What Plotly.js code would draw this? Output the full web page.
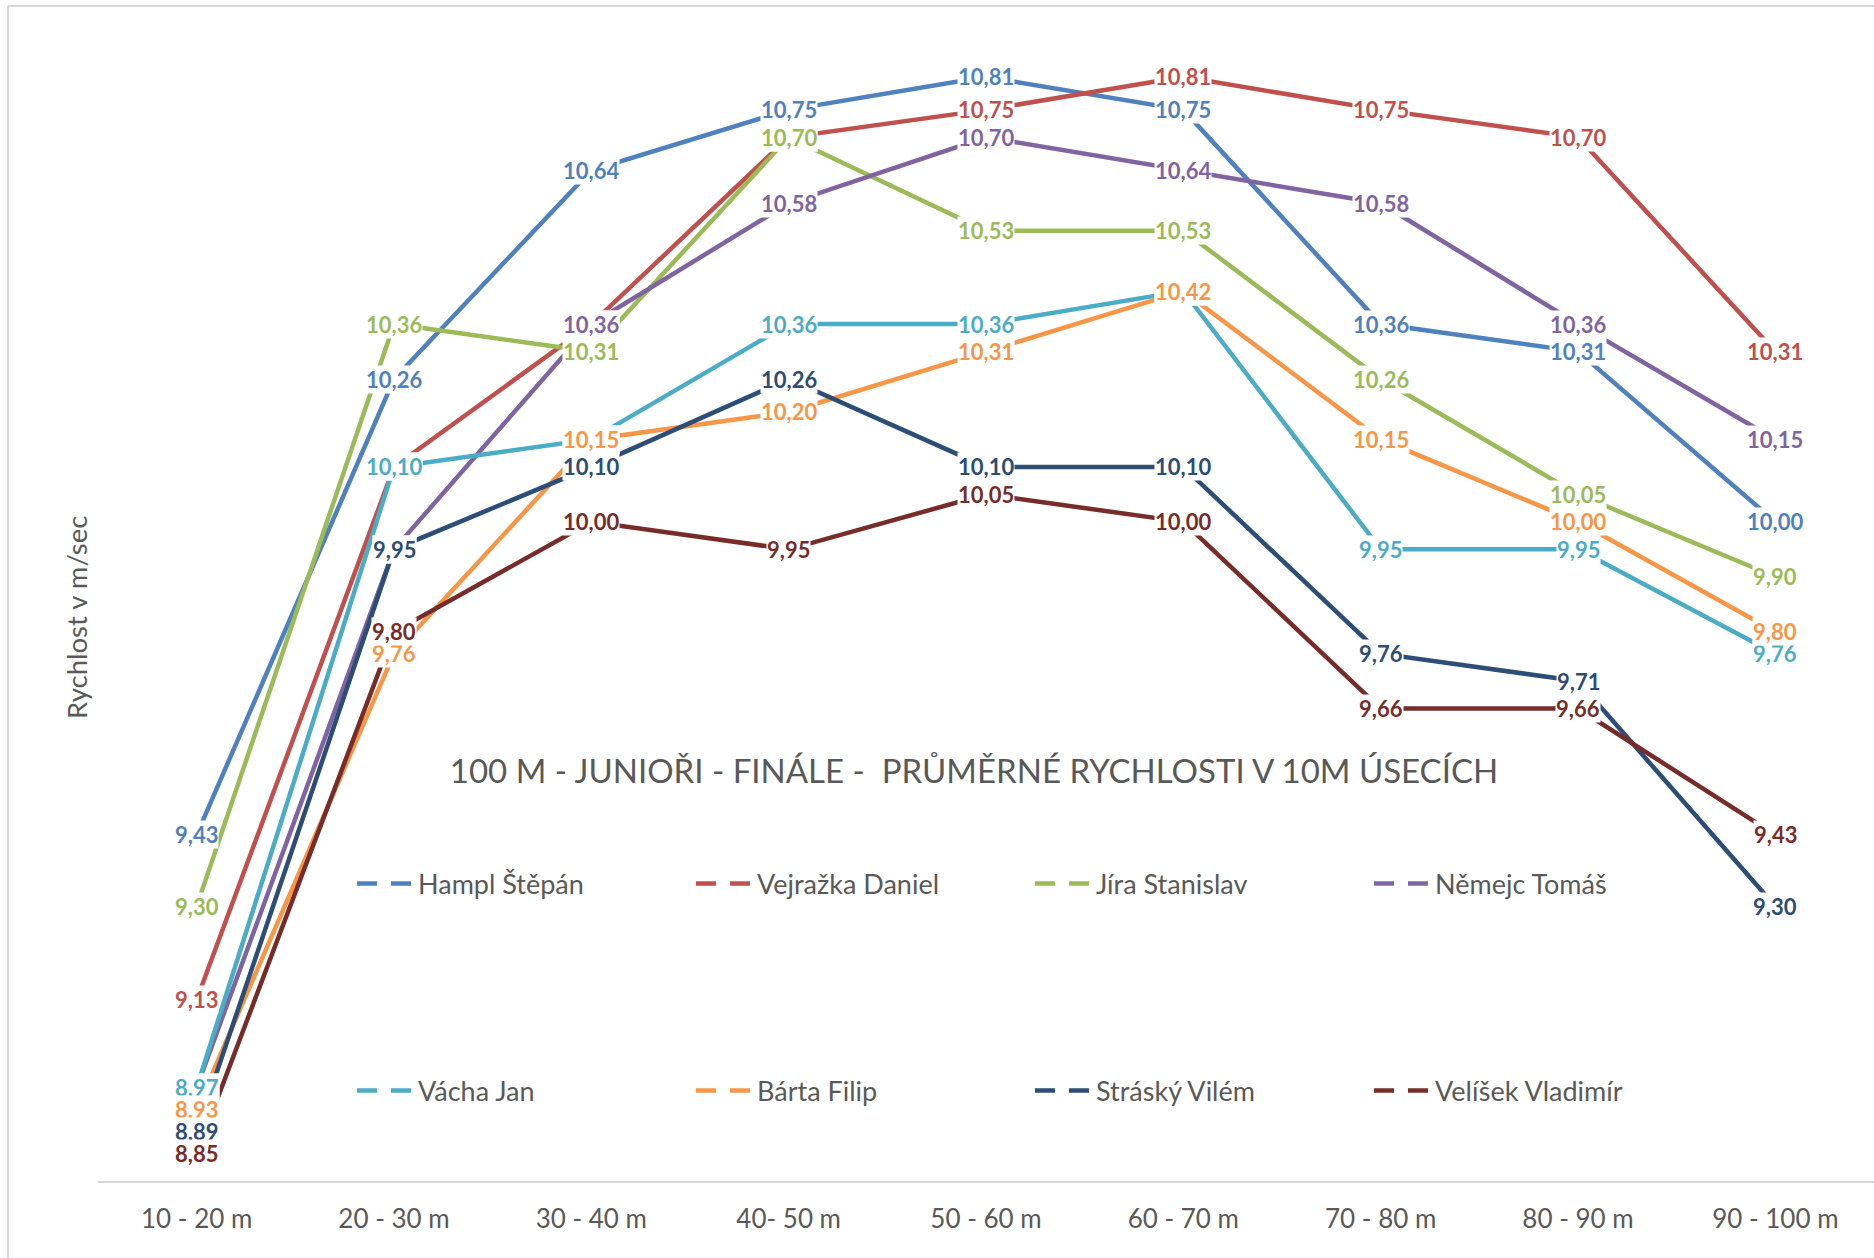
<!DOCTYPE html>
<html>
<head>
<meta charset="utf-8">
<script src="https://cdn.plot.ly/plotly-3.0.1.min.js"></script>
<style>html,body{margin:0;padding:0;background:#fff;}#chart{width:1874px;height:1258px;}</style>
</head>
<body>
<div id="chart"></div>
<script>
// ---- data ----
const categories = ["10 - 20 m", "20 - 30 m", "30 - 40 m", "40- 50 m", "50 - 60 m", "60 - 70 m", "70 - 80 m", "80 - 90 m", "90 - 100 m"];
const names = ["Hampl Štěpán", "Vejražka Daniel", "Jíra Stanislav", "Němejc Tomáš", "Vácha Jan", "Bárta Filip", "Stráský Vilém", "Velíšek Vladimír"];
const hampl    = [9.43, 10.26, 10.64, 10.75, 10.81, 10.75, 10.36, 10.31, 10.00];
const vejrazka = [9.13, 10.10, 10.36, 10.70, 10.75, 10.81, 10.75, 10.70, 10.31];
const jira     = [9.30, 10.36, 10.31, 10.70, 10.53, 10.53, 10.26, 10.05, 9.90];
const nemejc   = [8.97, 9.95, 10.36, 10.58, 10.70, 10.64, 10.58, 10.36, 10.15];
const vacha    = [8.97, 10.10, 10.15, 10.36, 10.36, 10.42, 9.95, 9.95, 9.76];
const barta    = [8.93, 9.76, 10.15, 10.20, 10.31, 10.42, 10.15, 10.00, 9.80];
const strasky  = [8.89, 9.95, 10.10, 10.26, 10.10, 10.10, 9.76, 9.71, 9.30];
const velisek  = [8.85, 9.80, 10.00, 9.95, 10.05, 10.00, 9.66, 9.66, 9.43];
const seriesValues = [hampl, vejrazka, jira, nemejc, vacha, barta, strasky, velisek];
const colors = ["#4F81BD", "#C0504D", "#9BBB59", "#8064A2", "#4BACC6", "#F79646", "#2C4D75", "#772C2A"];
const chartTitle = "100 M - JUNIOŘI - FINÁLE -  PRŮMĚRNÉ RYCHLOSTI V 10M ÚSECÍCH";
const yTitle = "Rychlost v m/sec";

// ---- traces ----
const FONT = "Lato, 'Open Sans', sans-serif";
const traces = [];
seriesValues.forEach((vals, i) => {
  traces.push({
    type: "scatter", mode: "lines", x: categories, y: vals, name: names[i],
    line: {color: colors[i], width: 4.5}, showlegend: false, hoverinfo: "skip"
  });
});
// legend entries (dashed symbol like the original)
names.forEach((n, i) => {
  traces.push({
    type: "scatter", mode: "lines", x: [null], y: [null], name: n,
    line: {color: colors[i], width: 4.5, dash: "20px,14px"},
    legend: i < 4 ? "legend" : "legend2", showlegend: true, hoverinfo: "skip"
  });
});

// ---- data labels (later series drawn on top) ----
const annotations = [];
seriesValues.forEach((vals, i) => {
  vals.forEach((v, j) => {
    annotations.push({
      x: categories[j], y: v, xref: "x", yref: "y", showarrow: false,
      text: v.toFixed(2).replace(".", ","),
      font: {family: FONT, size: 22, color: colors[i], weight: "bold"},
      bgcolor: "#ffffff", borderpad: 0, xanchor: "center", yanchor: "middle"
    });
  });
});
annotations.push({
  text: yTitle, xref: "paper", yref: "paper", x: (76 - 98) / 1776, y: (1181 - 618) / 1181,
  showarrow: false, textangle: -90, xanchor: "center", yanchor: "middle",
  font: {family: FONT, size: 27.5, color: "#595959"}
});

const legendCommon = {
  orientation: "h", xref: "paper", yref: "paper", xanchor: "left", yanchor: "middle",
  font: {family: FONT, size: 27, color: "#595959"}, bgcolor: "rgba(0,0,0,0)",
  entrywidth: 268, entrywidthmode: "pixels", itemwidth: 56, itemclick: false, itemdoubleclick: false
};

const layout = {
  width: 1874, height: 1258,
  margin: {l: 98, r: 0, t: 0, b: 77, autoexpand: false},
  paper_bgcolor: "#ffffff", plot_bgcolor: "#ffffff",
  showlegend: true,
  title: {
    text: chartTitle, x: 974 / 1874, xanchor: "center", xref: "container",
    y: 1 - 771 / 1258, yanchor: "middle", yref: "container",
    font: {family: FONT, size: 33, color: "#595959"}
  },
  xaxis: {
    type: "category", categoryorder: "array", categoryarray: categories, range: [-0.5, 8.5],
    showline: true, linecolor: "#D9D9D9", linewidth: 2, showgrid: false, zeroline: false,
    ticks: "", tickfont: {family: FONT, size: 26, color: "#595959"}, ticklabelstandoff: 14
  },
  yaxis: {range: [8.8, 10.95], visible: false, showgrid: false, zeroline: false},
  legend: Object.assign({}, legendCommon, {x: (352 - 98) / 1776, y: (1181 - 884) / 1181}),
  legend2: Object.assign({}, legendCommon, {x: (352 - 98) / 1776, y: (1181 - 1091) / 1181}),
  annotations: annotations,
  shapes: [
    {type: "line", xref: "paper", yref: "paper", x0: (8 - 98) / 1776, x1: 1, y0: (1181 - 6) / 1181, y1: (1181 - 6) / 1181,
     line: {color: "#D9D9D9", width: 2}, layer: "below"},
    {type: "line", xref: "paper", yref: "paper", x0: (8 - 98) / 1776, x1: (8 - 98) / 1776, y0: (1181 - 6) / 1181, y1: (1181 - 1258) / 1181,
     line: {color: "#D9D9D9", width: 2}, layer: "below"}
  ]
};

Plotly.newPlot("chart", traces, layout, {displayModeBar: false, staticPlot: true});
</script>
</body>
</html>
